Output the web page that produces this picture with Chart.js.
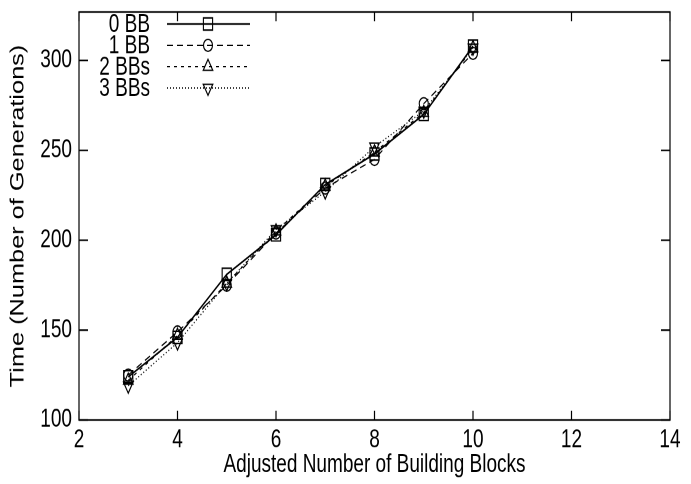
<!DOCTYPE html>
<html><head><meta charset="utf-8">
<script src="https://cdn.jsdelivr.net/npm/chart.js@4/dist/chart.umd.min.js"></script>
<style>html,body{margin:0;padding:0;background:#fff;overflow:hidden}
#c{width:691px;height:484px;display:block}</style>
</head><body>
<canvas id="c" width="691" height="363" style="width:691px;height:484px"></canvas>
<script>
const blocks = [3, 4, 5, 6, 7, 8, 9, 10];
const bb0 = [124, 146, 181, 203, 231, 248, 270, 308];
const bb1 = [125, 149, 175, 204, 229, 245, 276, 304];
const bb2 = [122, 147, 176, 205, 230, 249, 271, 307];
const bb3 = [119, 143, 176, 206, 227, 252, 272, 307];
const seriesNames = ['0 BB', '1 BB', '2 BBs', '3 BBs'];
const xTicks = [2, 4, 6, 8, 10, 12, 14];
const yTicks = [100, 150, 200, 250, 300];

const FONT = "'Liberation Sans', Arial, Helvetica, sans-serif";
const FS = 19;
const toPts = vals => blocks.map((b, i) => ({x: b, y: vals[i]}));

const styles = [
  {dash: [], width: 1.3, point: 'rect', radius: 6.5, rot: 0},
  {dash: [6, 4], width: 1.0, point: 'circle', radius: 4.5, rot: 0},
  {dash: [3, 4], width: 1.0, point: 'triangle', radius: 5.5, rot: 0},
  {dash: [1, 2], width: 1.0, point: 'triangle', radius: 5.5, rot: 180}
];
const allVals = [bb0, bb1, bb2, bb3];

const datasets = allVals.map((v, i) => ({
  label: seriesNames[i],
  data: toPts(v),
  borderColor: '#000',
  backgroundColor: 'rgba(0,0,0,0)',
  borderWidth: styles[i].width,
  borderDash: styles[i].dash,
  pointStyle: styles[i].point,
  pointRadius: styles[i].radius,
  pointRotation: styles[i].rot,
  pointBorderColor: '#000',
  pointBackgroundColor: 'rgba(0,0,0,0)',
  pointBorderWidth: 1.1,
  tension: 0
}));

function drawMarker(ctx, st, x, y) {
  if (Chart.helpers && Chart.helpers.drawPoint) {
    Chart.helpers.drawPoint(ctx, {pointStyle: st.point, radius: st.radius, rotation: st.rot, borderWidth: 1.1}, x, y);
  }
}

const framePlugin = {
  id: 'frame',
  afterDatasetsDraw(chart) {
    const ctx = chart.ctx, a = chart.chartArea;
    const xs = chart.scales.x, ys = chart.scales.y;
    const LX = 7, LY = 9;
    ctx.save();
    ctx.strokeStyle = '#000';
    ctx.lineWidth = 1.2;
    ctx.setLineDash([]);
    ctx.strokeRect(a.left, a.top, a.right - a.left, a.bottom - a.top);
    ctx.beginPath();
    xTicks.forEach(t => {
      const px = xs.getPixelForValue(t);
      ctx.moveTo(px, a.bottom); ctx.lineTo(px, a.bottom - LX);
      ctx.moveTo(px, a.top); ctx.lineTo(px, a.top + LX);
    });
    yTicks.forEach(t => {
      const py = ys.getPixelForValue(t);
      ctx.moveTo(a.left, py); ctx.lineTo(a.left + LY, py);
      ctx.moveTo(a.right, py); ctx.lineTo(a.right - LY, py);
    });
    ctx.stroke();

    // gnuplot-style key
    ctx.font = FS + 'px ' + FONT;
    ctx.fillStyle = '#000';
    ctx.textAlign = 'right';
    ctx.textBaseline = 'middle';
    chart.data.datasets.forEach((ds, i) => {
      const y = 18 + i * 16;
      ctx.fillText(ds.label, 150, y + 1);
      const st = styles[i];
      ctx.save();
      ctx.lineWidth = st.width;
      ctx.setLineDash(st.dash);
      ctx.beginPath();
      ctx.moveTo(167, y); ctx.lineTo(250, y);
      ctx.stroke();
      ctx.restore();
      ctx.save();
      ctx.strokeStyle = '#000';
      ctx.fillStyle = 'rgba(0,0,0,0)';
      ctx.lineWidth = 1.1;
      ctx.setLineDash([]);
      drawMarker(ctx, st, 208, y);
      ctx.restore();
    });
    ctx.restore();
  }
};

new Chart(document.getElementById('c'), {
  type: 'line',
  data: {datasets},
  options: {
    responsive: false,
    animation: false,
    devicePixelRatio: 2,
    layout: {padding: {top: 9, right: 21, bottom: 0, left: 0}},
    plugins: {legend: {display: false}, tooltip: {enabled: false}},
    scales: {
      x: {
        type: 'linear', min: 2, max: 14,
        afterBuildTicks: s => { s.ticks = xTicks.map(v => ({value: v})); },
        afterFit: s => { s.height = 48; s.paddingLeft = 0; s.paddingRight = 0; },
        grid: {display: false, drawTicks: false},
        border: {display: false},
        ticks: {color: '#000', padding: 4, font: {family: FONT, size: FS}, maxRotation: 0},
        title: {display: true, text: 'Adjusted Number of Building Blocks', color: '#000',
                font: {family: FONT, size: FS}, padding: {top: 0, bottom: 3}}
      },
      y: {
        type: 'linear', min: 100, max: 327,
        afterBuildTicks: s => { s.ticks = yTicks.map(v => ({value: v})); },
        afterFit: s => { s.width = 79; s.paddingTop = 0; s.paddingBottom = 0; },
        grid: {display: false, drawTicks: false},
        border: {display: false},
        ticks: {color: '#000', padding: 7, font: {family: FONT, size: FS}},
        title: {display: true, text: 'Time (Number of Generations)', color: '#000',
                font: {family: FONT, size: FS}, padding: {top: 7, bottom: 0}}
      }
    }
  },
  plugins: [framePlugin]
});
</script>
</body></html>
